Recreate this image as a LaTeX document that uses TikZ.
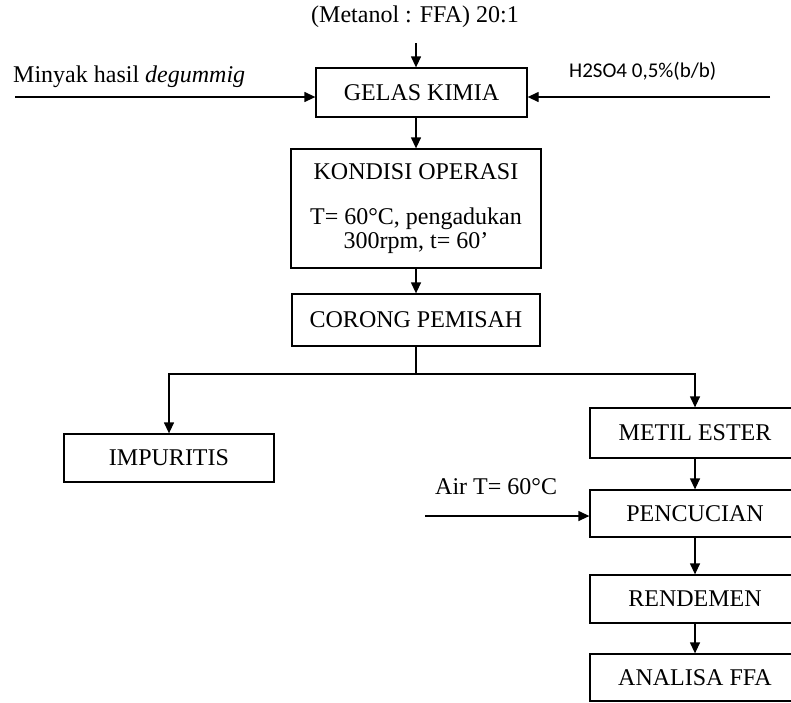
\documentclass[tikz,border=0pt]{standalone}
\usepackage{fontspec}
\setmainfont{Liberation Serif}
\newfontfamily\calibrifont{Carlito}
\usetikzlibrary{arrows.meta}

\begin{document}
\begin{tikzpicture}[x=1pt, y=-1pt, font=\fontsize{24}{24}\selectfont, >={Triangle[length=11pt,width=10pt]}]
    \useasboundingbox (0,0) rectangle (791,702);
    \begin{scope}[every node/.style={rectangle, draw, line width=1.3pt, inner sep=0pt, align=center, minimum width=210pt}]
        \node[minimum width=211pt, minimum height=49pt] (gelas) at (421.5,92.5) {GELAS KIMIA};
        \node[minimum width=250pt, minimum height=119pt] (kondisi) at (416,208.5) {KONDISI OPERASI\\[21pt]T= 60°C, pengadukan\\[0pt]300rpm, t= 60’};
        \node[minimum width=248pt, minimum height=52pt] (corong) at (416,320) {CORONG PEMISAH};
        \node[minimum height=48pt] (impuritis) at (169,458) {IMPURITIS};
        \node[minimum height=50pt] (metil) at (695,433) {METIL ESTER};
        \node[minimum height=47pt] (pencucian) at (695,513.5) {PENCUCIAN};
        \node[minimum height=48pt] (rendemen) at (695,599) {RENDEMEN};
        \node[minimum height=47pt] (analisa) at (695,677.5) {ANALISA FFA};
    \end{scope}
    \begin{scope}[every node/.style={inner sep=0pt}]
        \node (metanol) at (415,17) {(Metanol : FFA) 20:1};
        \node[anchor=west] (minyak) at (13,77) {Minyak hasil \textit{degummig}};
        \node[anchor=west, font=\calibrifont\fontsize{21}{21}\selectfont] (asam) at (569,71) {H2SO4 0,5\%(b/b)};
        \node[anchor=west] (air) at (435,487) {Air T= 60°C};
    \end{scope}
    \coordinate (topin) at (416,43);
    \coordinate (leftin) at (15,97);
    \coordinate (rightin) at (770,97);
    \coordinate (airin) at (425,516);
    \coordinate (split) at (416,374);
    \begin{scope}[every edge/.style={draw, line width=1.3pt}]
        \path [->] (topin) edge (topin |- gelas.north);
        \path [->] (leftin) edge (leftin -| gelas.west);
        \path [->] (rightin) edge (rightin -| gelas.east);
        \path [->] (kondisi.north |- gelas.south) edge (kondisi.north);
        \path [->] (kondisi.south) edge (corong.north);
        \path [-] (corong.south) edge (split);
        \path [->] (split) edge[to path={-| (\tikztotarget)}] (impuritis.north);
        \path [->] (split) edge[to path={-| (\tikztotarget)}] (metil.north);
        \path [->] (metil) edge (pencucian);
        \path [->] (airin) edge (airin -| pencucian.west);
        \path [->] (pencucian) edge (rendemen);
        \path [->] (rendemen) edge (analisa);
    \end{scope}
\end{tikzpicture}
\end{document}
